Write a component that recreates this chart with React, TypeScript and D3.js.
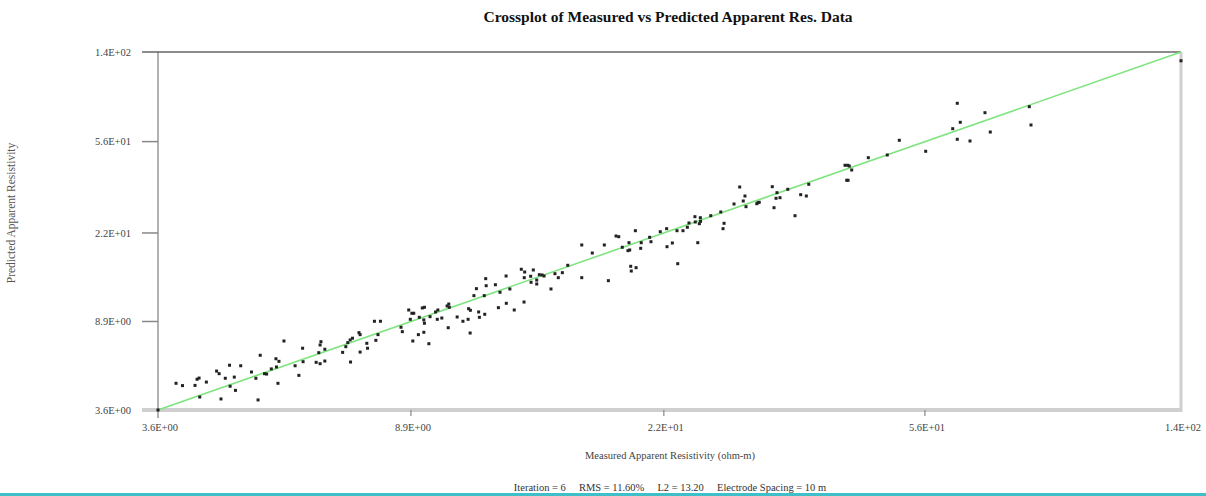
import React from 'react';
import * as d3 from 'd3';

const measured = [
  3.6, 3.84, 3.93, 4.11, 4.14, 4.17, 4.28, 4.18, 4.44, 4.48,
  4.51, 4.58, 4.65, 4.66, 4.73, 4.75, 4.84, 5.03, 5.11, 5.15,
  5.19, 5.27, 5.31, 5.40, 5.49, 5.55, 5.50, 5.53, 5.65, 5.88,
  5.96, 6.04, 6.05, 6.34, 6.43, 6.40, 6.45, 6.43, 6.54, 6.54,
  6.97, 7.05, 7.10, 7.16, 7.22, 7.17, 7.39, 7.42, 7.42, 7.60,
  7.62, 7.81, 7.98, 7.85, 7.91, 8.59, 8.63, 8.83, 8.88, 8.93,
  8.99, 8.96, 9.14, 9.17, 9.27, 9.34, 9.32, 9.34, 9.32, 9.49,
  9.72, 9.80, 9.78, 9.53, 10.17, 10.19, 10.13, 10.21, 9.94, 10.50,
  10.72, 10.92, 10.94, 11.01, 11.00, 11.15, 11.25, 11.34, 11.37, 11.59,
  11.57, 11.65, 11.63, 12.04, 12.17, 12.24, 12.51, 12.52, 12.68, 12.88,
  13.21, 13.34, 13.37, 13.35, 13.66, 13.79, 13.68, 13.96, 13.96, 14.09,
  14.23, 14.33, 14.69, 14.90, 15.08, 15.30, 15.60, 16.40, 16.40, 17.03,
  17.78, 18.04, 18.54, 18.72, 18.96, 19.35, 19.47, 19.42, 19.54, 19.58,
  19.92, 19.87, 20.29, 20.25, 20.91, 21.01, 21.72, 22.25, 22.68, 23.12,
  23.56, 24.84, 22.22, 23.06, 23.93, 24.07, 24.59, 24.62, 25.07, 25.09,
  24.98, 26.02, 26.97, 27.29, 27.19, 28.28, 28.86, 29.23, 29.41, 29.52,
  30.68, 30.81, 30.95, 32.43, 32.98, 32.87, 33.34, 32.63, 34.28, 35.18,
  35.90, 36.63, 36.95, 42.07, 42.47, 42.72, 43.09, 42.33, 42.53, 45.73,
  48.94, 51.09, 56.15, 61.85, 62.87, 63.55, 62.87, 65.80, 69.42, 70.75,
  81.35, 81.85, 140,
];

const predicted = [
  3.6, 4.73, 4.62, 4.63, 4.93, 4.99, 4.79, 4.11, 5.36, 5.22,
  4.03, 4.98, 5.69, 4.59, 5.04, 4.40, 5.66, 5.31, 4.98, 3.99,
  6.30, 5.22, 5.20, 5.48, 6.08, 5.92, 5.59, 4.73, 7.29, 5.66,
  5.13, 6.77, 5.90, 5.86, 5.78, 6.47, 7.24, 7.00, 5.94, 6.70,
  6.49, 6.88, 7.17, 7.37, 7.50, 5.88, 7.94, 7.78, 6.51, 7.12,
  6.77, 8.92, 8.92, 7.34, 7.78, 8.39, 8.02, 10.01, 9.10, 9.68,
  9.68, 7.29, 7.78, 9.29, 10.22, 10.29, 9.04, 8.74, 7.97, 7.09,
  9.81, 10.01, 9.10, 9.35, 8.35, 10.64, 10.43, 10.29, 9.22, 9.32,
  8.92, 9.10, 10.14, 9.98, 7.91, 11.59, 12.45, 9.81, 9.29, 9.58,
  11.59, 12.83, 13.79, 12.96, 10.25, 12.00, 14.17, 10.72, 12.41, 10.01,
  15.18, 10.86, 14.76, 13.93, 14.13, 15.07, 13.29, 13.06, 13.60, 14.36,
  14.32, 14.17, 12.41, 14.51, 13.93, 14.66, 15.81, 19.46, 13.93, 17.93,
  19.46, 13.51, 21.33, 21.18, 19.01, 18.36, 18.49, 19.92, 15.65, 14.91,
  15.43, 22.52, 19.92, 18.81, 21.05, 20.12, 22.29, 19.12, 19.86, 16.07,
  22.52, 19.92, 22.99, 22.52, 23.32, 24.37, 25.99, 24.62, 25.72, 24.79,
  24.19, 26.25, 27.27, 24.29, 22.99, 29.59, 35.21, 30.51, 32.11, 28.79,
  29.68, 29.99, 30.11, 35.32, 33.22, 31.37, 31.56, 28.49, 34.39, 26.25,
  32.55, 32.11, 36.20, 43.96, 43.96, 43.64, 41.89, 37.71, 37.71, 47.51,
  48.84, 56.76, 50.73, 63.91, 82.87, 68.23, 57.35, 56.36, 75.27, 61.77,
  80.03, 66.38, 128,
];

const tickValues = [3.6, 8.9, 22, 56, 140];
const tickLabels = ['3.6E+00', '8.9E+00', '2.2E+01', '5.6E+01', '1.4E+02'];
const fitLine = [3.6, 140];

const W = 1206;
const H = 496;
const font = '"Liberation Serif", "Times New Roman", serif';

export default function App() {
  const x = d3.scaleLog().domain([3.6, 140]).range([158, 1181]);
  const y = d3.scaleLog().domain([3.6, 140]).range([410, 52]);

  const [x0, x1] = x.range();
  const [y0, y1] = y.range();

  const line = d3
    .line<number>()
    .x((d) => x(d))
    .y((d) => y(d));

  return (
    <svg
      width={W}
      height={H}
      style={{ position: 'absolute', left: 0, top: 0, background: '#fff' }}
      fontFamily={font}
    >
      {/* title */}
      <text x={668} y={22} textAnchor="middle" fontSize={15.5} fontWeight="bold" fill="#111">
        Crossplot of Measured vs Predicted Apparent Res. Data
      </text>

      {/* frame */}
      <line x1={x1} x2={x1} y1={y1} y2={y0 + 2} stroke="#cfcfcf" strokeWidth={3} />
      <line x1={142} x2={x1 + 1} y1={y0} y2={y0} stroke="#cfcfcf" strokeWidth={4} />
      <line x1={x0} x2={x0} y1={y1} y2={y0 + 8} stroke="#888" strokeWidth={1.3} />
      <line x1={142} x2={x1} y1={y1} y2={y1} stroke="#666" strokeWidth={1.6} />

      {/* y ticks + labels */}
      {tickValues.map((v, i) => (
        <g key={'y' + i}>
          {i > 0 && i < tickValues.length - 1 && (
            <line x1={142} x2={x0} y1={y(v)} y2={y(v)} stroke="#888" strokeWidth={1.5} />
          )}
          <text x={131} y={y(v)} dy="0.35em" textAnchor="end" fontSize={10.5} fill="#444">
            {tickLabels[i]}
          </text>
        </g>
      ))}

      {/* x ticks + labels */}
      {tickValues.map((v, i) => (
        <g key={'x' + i}>
          {i > 0 && i < tickValues.length - 1 && (
            <line x1={x(v)} x2={x(v)} y1={y0} y2={y0 + 6} stroke="#888" strokeWidth={1.2} />
          )}
          <text x={x(v) + 2} y={431} textAnchor="middle" fontSize={10.5} fill="#444">
            {tickLabels[i]}
          </text>
        </g>
      ))}

      {/* 1:1 line */}
      <path d={line(fitLine) || ''} fill="none" stroke="#7fe47f" strokeWidth={1.6} />

      {/* data points */}
      {measured.map((m, i) => (
        <rect
          key={i}
          x={x(m) - 1.5}
          y={y(predicted[i]) - 1.5}
          width={3}
          height={3}
          fill="#222"
        />
      ))}

      {/* axis titles */}
      <text
        transform={`translate(15,213) rotate(-90)`}
        textAnchor="middle"
        fontSize={11.5}
        fill="#555"
      >
        Predicted Apparent Resistivity
      </text>
      <text x={670} y={459} textAnchor="middle" fontSize={10.5} fill="#444">
        Measured Apparent Resistivity (ohm-m)
      </text>
      <text x={670} y={491} textAnchor="middle" fontSize={10.5} fill="#333" style={{ whiteSpace: 'pre' }}>
        {'Iteration = 6     RMS = 11.60%     L2 = 13.20     Electrode Spacing = 10 m'}
      </text>

      {/* bottom rule */}
      <rect x={0} y={493} width={W} height={3} fill="#3fc0c8" />
    </svg>
  );
}
